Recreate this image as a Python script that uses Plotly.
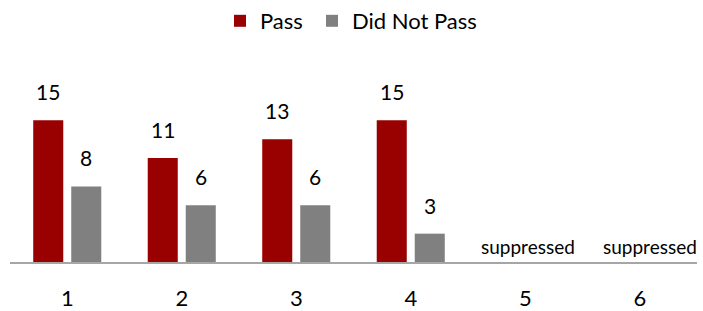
import plotly.graph_objects as go

categories = ["1", "2", "3", "4", "5", "6"]
pass_values = [15, 11, 13, 15, None, None]
fail_values = [8, 6, 6, 3, None, None]
suppressed_labels = ["", "", "", "", "suppressed", "suppressed"]

PASS_COLOR = "#990000"
FAIL_COLOR = "#808080"
FONT = "Lato, Carlito, Calibri, sans-serif"

W, H = 703, 311

fig = go.Figure()
fig.add_trace(go.Bar(x=categories, y=pass_values, name="Pass", legend="legend",
                     marker=dict(color=PASS_COLOR, line=dict(width=0))))
fig.add_trace(go.Bar(x=categories, y=fail_values, name="Did Not Pass", legend="legend2",
                     marker=dict(color=FAIL_COLOR, line=dict(width=0))))

annotations = []
for i, (pv, fv, sup) in enumerate(zip(pass_values, fail_values, suppressed_labels)):
    if pv is not None:
        annotations.append(dict(x=i, y=pv, text=str(pv), showarrow=False,
                                xshift=-19, yshift=14, yanchor="bottom",
                                font=dict(size=21, color="#000000", family=FONT)))
    if fv is not None:
        annotations.append(dict(x=i, y=fv, text=str(fv), showarrow=False,
                                xshift=19, yshift=14, yanchor="bottom",
                                font=dict(size=21, color="#000000", family=FONT)))
    if sup:
        annotations.append(dict(x=i, y=0, text=sup, showarrow=False,
                                xshift=3 if i == 4 else 10, yshift=2, yanchor="bottom",
                                font=dict(size=19, color="#000000", family=FONT)))

legend_common = dict(orientation="h", xanchor="left",
                     yref="container", y=1, yanchor="top",
                     font=dict(size=22, family=FONT, color="#000000"),
                     itemclick=False, bgcolor="rgba(0,0,0,0)")

fig.update_layout(
    width=W, height=H,
    margin=dict(l=10, r=6, t=73, b=49),
    paper_bgcolor="white", plot_bgcolor="white",
    barmode="group", bargap=0.336, bargroupgap=0.21,
    font=dict(family=FONT, size=20, color="#000000"),
    showlegend=True,
    legend=dict(x=(220 - 10) / 687, **legend_common),
    legend2=dict(x=(312 - 10) / 687, **legend_common),
    xaxis=dict(type="category", range=[-0.5, 5.5], automargin=False,
               showgrid=False, showline=True, linecolor="#a6a6a6", linewidth=2,
               ticks="", tickfont=dict(size=22, family=FONT, color="#000000"),
               ticklabelstandoff=16, zeroline=False),
    yaxis=dict(range=[0, 20], visible=False, showgrid=False, zeroline=False,
               automargin=False),
    annotations=annotations,
)

fig.write_html("out.html", config={"displayModeBar": False},
               post_script="document.body.style.margin='0';")
